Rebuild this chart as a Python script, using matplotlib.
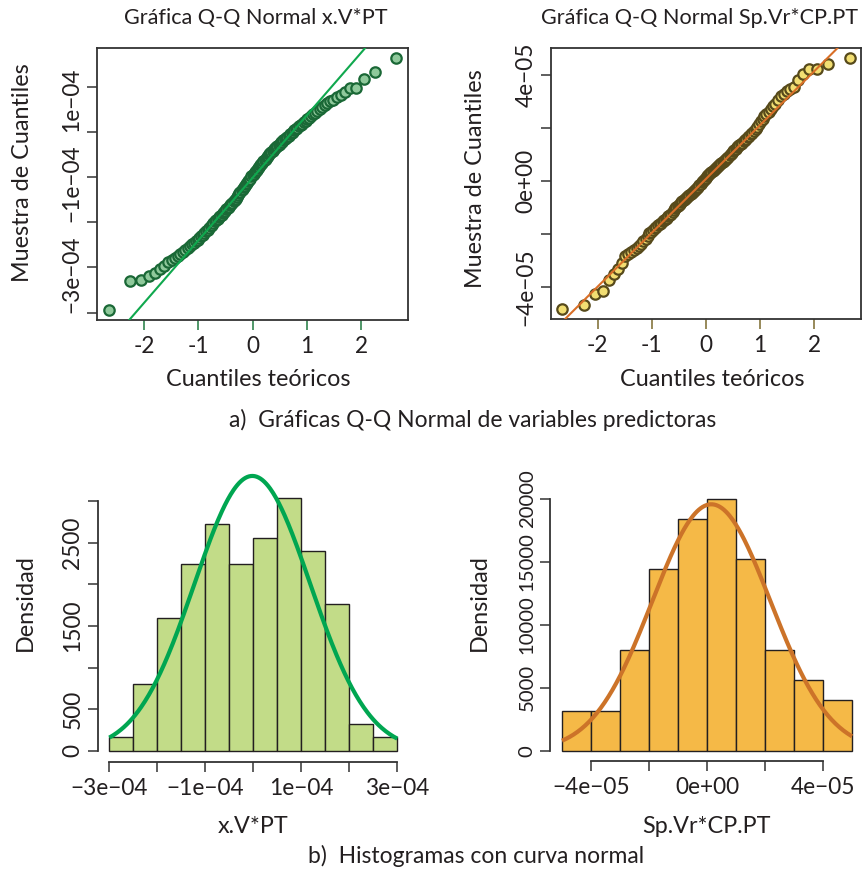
import matplotlib
matplotlib.use("Agg")
import matplotlib.pyplot as plt
import numpy as np
from statistics import NormalDist

plt.rcParams['font.family'] = ['Lato', 'DejaVu Sans']
TXT = '#231f20'
plt.rcParams['text.color'] = TXT

# ---------------- data ----------------
# sorted sample of x.V*PT (units 1e-4), read from the Q-Q plot / histogram
xv_sample = np.array([
    -2.94,
    -2.31, -2.27, -2.19, -2.13, -2.04,
    -1.96, -1.88, -1.83, -1.78, -1.74, -1.70, -1.66, -1.61, -1.57, -1.52,
    -1.48, -1.45, -1.42, -1.38, -1.35, -1.31, -1.28, -1.24, -1.20, -1.17, -1.13, -1.09, -1.05, -1.02,
    -0.98, -0.95, -0.92, -0.89, -0.86, -0.83, -0.80, -0.77, -0.74, -0.71, -0.68, -0.65, -0.62, -0.59,
    -0.56, -0.53, -0.51,
    -0.48, -0.44, -0.40, -0.36, -0.32, -0.29, -0.26, -0.22, -0.19, -0.16, -0.12, -0.09, -0.06, -0.03,
    0.02, 0.05, 0.08, 0.11, 0.14, 0.17, 0.20, 0.23, 0.26, 0.29, 0.32, 0.35, 0.38, 0.41, 0.44, 0.48,
    0.51, 0.54, 0.57, 0.59, 0.62, 0.64, 0.67, 0.69, 0.72, 0.74, 0.77, 0.79, 0.82, 0.84, 0.87, 0.89,
    0.92, 0.95, 0.98,
    1.01, 1.04, 1.07, 1.10, 1.13, 1.16, 1.19, 1.22, 1.25, 1.28, 1.31, 1.35, 1.39, 1.43, 1.47,
    1.52, 1.56, 1.60, 1.65, 1.68, 1.72, 1.78, 1.83, 1.88, 1.97, 1.98,
    2.18, 2.34,
    2.64]) * 1e-4

# sorted sample of Sp.Vr*CP.PT (units 1e-5)
sp_sample = np.array([
    -4.83, -4.69, -4.28, -4.14,
    -3.74, -3.51, -3.31, -3.08,
    -2.85, -2.76, -2.68, -2.60, -2.52, -2.44, -2.36, -2.28, -2.18, -2.08,
    -1.97, -1.91, -1.85, -1.79, -1.74, -1.68, -1.63, -1.57, -1.52, -1.47, -1.42, -1.38, -1.34, -1.29,
    -1.23, -1.17, -1.10, -1.03,
    -0.97, -0.93, -0.89, -0.85, -0.81, -0.77, -0.73, -0.69, -0.65, -0.61, -0.57, -0.53, -0.49, -0.45,
    -0.41, -0.37, -0.33, -0.29, -0.25, -0.21, -0.16, -0.11, -0.05,
    0.01, 0.05, 0.09, 0.13, 0.17, 0.21, 0.25, 0.29, 0.33, 0.37, 0.41, 0.45, 0.48, 0.52, 0.55, 0.59,
    0.63, 0.67, 0.71, 0.75, 0.79, 0.83, 0.87, 0.92, 0.97,
    1.02, 1.07, 1.12, 1.17, 1.22, 1.27, 1.31, 1.36, 1.40, 1.45, 1.50, 1.55, 1.60, 1.65, 1.70, 1.76,
    1.82, 1.88, 1.95,
    2.05, 2.15, 2.25, 2.35, 2.44, 2.53, 2.62, 2.72, 2.82, 2.92,
    3.05, 3.20, 3.30, 3.38, 3.48, 3.55, 3.80,
    4.05, 4.22, 4.24, 4.42, 4.64]) * 1e-5

xv_edges = np.array([-3.0, -2.5, -2.0, -1.5, -1.0, -0.5, 0.0, 0.5, 1.0, 1.5, 2.0, 2.5, 3.0]) * 1e-4
xv_density = [160, 800, 1600, 2240, 2720, 2240, 2560, 3040, 2400, 1760, 320, 160]
xv_mean, xv_sd = -0.02e-4, 1.208e-4

sp_edges = np.array([-5, -4, -3, -2, -1, 0, 1, 2, 3, 4, 5]) * 1e-5
sp_density = [3200, 3200, 8000, 14400, 18400, 20000, 15200, 8000, 5600, 4000]
sp_mean, sp_sd = 0.15e-5, 2.04e-5

qq_xticks = [-2, -1, 0, 1, 2]
qq_xticklabels = ['-2', '-1', '0', '1', '2']
xv_qq_yticks = [-3e-4, -2e-4, -1e-4, 0, 1e-4, 2e-4]
xv_qq_yticklabels = ['\u22123e\u221204', '', '\u22121e\u221204', '', '1e\u221204', '']
sp_qq_yticks = [-4e-5, -2e-5, 0, 2e-5, 4e-5]
sp_qq_yticklabels = ['\u22124e\u221205', '', '0e+00', '', '4e\u221205']
xv_h_yticks = [0, 500, 1000, 1500, 2000, 2500, 3000]
xv_h_yticklabels = ['0', '500', '', '1500', '', '2500', '']
xv_h_xticks = [-3e-4, -2e-4, -1e-4, 0, 1e-4, 2e-4, 3e-4]
xv_h_xticklabels = ['\u22123e\u221204', '', '\u22121e\u221204', '', '1e\u221204', '', '3e\u221204']
sp_h_yticks = [0, 5000, 10000, 15000, 20000]
sp_h_yticklabels = ['0', '5000', '10000', '15000', '20000']
sp_h_xticks = [-4e-5, -2e-5, 0, 2e-5, 4e-5]
sp_h_xticklabels = ['\u22124e\u221205', '', '0e+00', '', '4e\u221205']

# ---------------- figure ----------------
W, H = 864, 872
fig = plt.figure(figsize=(W / 100, H / 100), dpi=100)
FS_TICK = 16.3
FS_LAB = 16.8
FS_TITLE = 15.6
FS_CAP = 16.5


def px_axes(x0, y0, x1, y1):
    return fig.add_axes([x0 / W, 1 - y1 / H, (x1 - x0) / W, (y1 - y0) / H])


def ftext(x, y, s, fs, **kw):
    fig.text(x / W, 1 - y / H, s, ha='center', va='center', fontsize=fs, **kw)


def qq(ax, sample, fill, edge, linecol, tickcol, yticks, ylabels, yva):
    n = len(sample)
    nd = NormalDist()
    p = (np.arange(1, n + 1) - 0.5) / n
    theo = np.array([nd.inv_cdf(v) for v in p])
    ys = np.sort(sample)
    ax.scatter(theo, ys, s=56, facecolor=fill, edgecolor=edge, linewidth=1.6, zorder=3)
    q1, q3 = np.quantile(ys, [0.25, 0.75])
    z1, z3 = nd.inv_cdf(0.25), nd.inv_cdf(0.75)
    slope = (q3 - q1) / (z3 - z1)
    inter = q1 - slope * z1
    ax.axline((0, inter), slope=slope, color=linecol, lw=1.5, zorder=4)
    ax.margins(0.04)
    for sp in ax.spines.values():
        sp.set_color('#333333')
        sp.set_linewidth(1.3)
    ax.set_xticks(qq_xticks, qq_xticklabels)
    ax.set_yticks(yticks, ylabels)
    ax.tick_params(axis='x', direction='out', length=7.5, width=1.1, color=tickcol,
                   labelsize=FS_TICK, labelcolor=TXT, pad=4)
    ax.tick_params(axis='y', direction='out', length=7.5, width=1.1, color='#333333',
                   labelsize=FS_TICK, labelcolor=TXT, pad=3)
    for lab in ax.get_yticklabels():
        lab.set_rotation(90)
        lab.set_va(yva)


ax1 = px_axes(97, 48, 408, 320)
qq(ax1, xv_sample, '#8fc99b', '#1a6836', '#10a84e', '#1f7a40',
   xv_qq_yticks, xv_qq_yticklabels, 'bottom')
ax2 = px_axes(551, 48, 861, 319)
qq(ax2, sp_sample, '#f2de72', '#574a1b', '#d96f28', '#7a6a2e',
   sp_qq_yticks, sp_qq_yticklabels, 'center')


def hist(ax, edges, dens, mean, sd, fill, curvecol, ylim, yticks, ylabels, xticks, xlabels,
         ylabsize):
    ax.bar(edges[:-1], dens, width=np.diff(edges), align='edge', color=fill,
           edgecolor='#231f20', linewidth=1.0, zorder=2)
    xs = np.linspace(edges[0], edges[-1], 300)
    ys = np.exp(-0.5 * ((xs - mean) / sd) ** 2) / (sd * np.sqrt(2 * np.pi))
    ax.plot(xs, ys, color=curvecol, lw=3.0, zorder=3, solid_capstyle='butt')
    span = edges[-1] - edges[0]
    ax.set_xlim(edges[0] - 0.04 * span, edges[-1] + 0.04 * span)
    ax.set_ylim(*ylim)
    for s in ['top', 'right']:
        ax.spines[s].set_visible(False)
    for s in ['left', 'bottom']:
        ax.spines[s].set_color('#333333')
        ax.spines[s].set_linewidth(1.3)
    ax.spines['left'].set_bounds(yticks[0], yticks[-1])
    ax.spines['bottom'].set_bounds(xticks[0], xticks[-1])
    ax.set_yticks(yticks, ylabels)
    ax.set_xticks(xticks, xlabels)
    ax.tick_params(direction='out', length=7.5, width=1.1, color='#333333',
                   labelcolor=TXT)
    ax.tick_params(axis='x', pad=4, labelsize=FS_TICK)
    ax.tick_params(axis='y', pad=3, labelsize=ylabsize)
    for lab in ax.get_yticklabels():
        lab.set_rotation(90)
        lab.set_va('center')


ax3 = px_axes(97.8, 465, 408.8, 761.7)
hist(ax3, xv_edges, xv_density, xv_mean, xv_sd, '#c2dc88', '#00a651', (-132, 3434),
     xv_h_yticks, xv_h_yticklabels, xv_h_xticks, xv_h_xticklabels, FS_TICK)
ax4 = px_axes(550.4, 488.6, 863.6, 761)
hist(ax4, sp_edges, sp_density, sp_mean, sp_sd, '#f5b947', '#cc7329', (-800, 20800),
     sp_h_yticks, sp_h_yticklabels, sp_h_xticks, sp_h_xticklabels, 14.6)

# texts
ftext(256, 18, 'Gráfica Q-Q Normal x.V*PT', FS_TITLE)
ftext(700, 18, 'Gráfica Q-Q Normal Sp.Vr*CP.PT', FS_TITLE)
ftext(258, 380, 'Cuantiles teóricos', FS_LAB)
ftext(712, 380, 'Cuantiles teóricos', FS_LAB)
ftext(23, 173, 'Muestra de Cuantiles', FS_LAB, rotation=90)
ftext(476, 179, 'Muestra de Cuantiles', FS_LAB, rotation=90)
ftext(473, 420, 'a)  Gráficas Q-Q Normal de variables predictoras', FS_CAP)
ftext(25, 603, 'Densidad', FS_LAB, rotation=90)
ftext(479, 603, 'Densidad', FS_LAB, rotation=90)
ftext(253, 826, 'x.V*PT', FS_LAB)
ftext(706, 826, 'Sp.Vr*CP.PT', FS_LAB)
ftext(476, 856, 'b)  Histogramas con curva normal', FS_CAP)

fig.savefig('out.png', dpi=100)
